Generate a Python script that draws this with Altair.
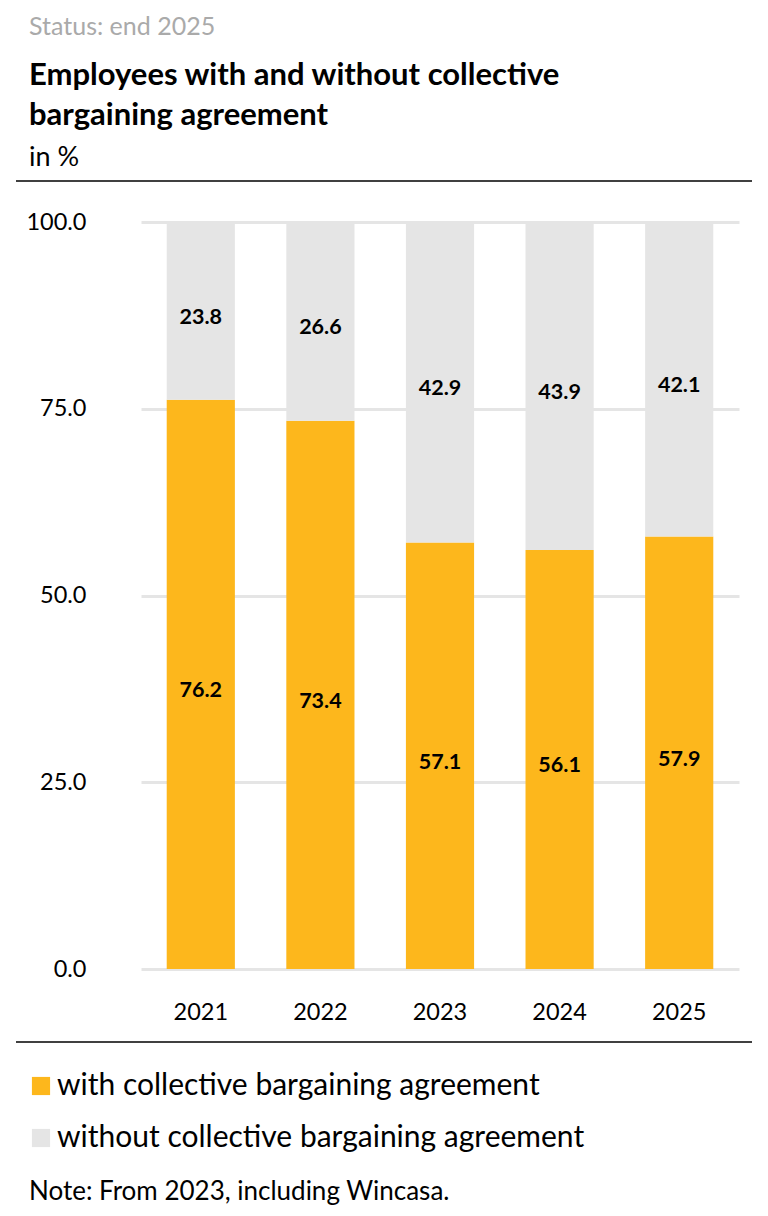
import altair as alt
import pandas as pd

years = ["2021", "2022", "2023", "2024", "2025"]
with_cba = [76.2, 73.4, 57.1, 56.1, 57.9]
without_cba = [23.8, 26.6, 42.9, 43.9, 42.1]
series = ["with collective bargaining agreement", "without collective bargaining agreement"]
colors = ["#FDB71C", "#E5E5E5"]
y_ticks = [0, 25, 50, 75, 100]

status_text = "Status: end 2025"
title_lines = ["Employees with and without collective", "bargaining agreement"]
unit_text = "in %"
note_text = "Note: From 2023, including Wincasa."

FONT = "Lato"

rows = []
for i, yr in enumerate(years):
    rows.append({"year": yr, "series": series[0], "value": with_cba[i], "ord": 0})
    rows.append({"year": yr, "series": series[1], "value": without_cba[i], "ord": 1})
df = pd.DataFrame(rows)

W, H = 598, 747

x_enc = alt.X("year:N", sort=years,
              scale=alt.Scale(paddingInner=0.43, paddingOuter=0.215),
              axis=alt.Axis(title=None, labelFontSize=23.5, labelFont=FONT, labelColor="#000",
                            labelPadding=31, ticks=False, domain=False, labelAngle=0,
                            grid=False))
y_scale = alt.Scale(domain=[0, 100], nice=False)

bars = alt.Chart(df).mark_bar().encode(
    x=x_enc,
    y=alt.Y("value:Q", stack="zero", scale=y_scale,
            axis=alt.Axis(title=None, values=y_ticks, format=".1f", labelFontSize=23.5,
                          labelFont=FONT, labelColor="#000", labelPadding=55,
                          ticks=False, domain=False, grid=True, gridColor="#E5E5E5",
                          gridWidth=3)),
    color=alt.Color("series:N", scale=alt.Scale(domain=series, range=colors),
                    legend=alt.Legend(title=None, orient="none", legendX=-115, legendY=849,
                                      direction="vertical", symbolType="square",
                                      symbolSize=330, symbolStrokeWidth=0,
                                      labelFontSize=30, labelFont=FONT, labelColor="#000",
                                      labelOffset=1, rowPadding=22, labelLimit=700)),
    order=alt.Order("ord:Q"),
)

labels = alt.Chart(df).transform_stack(
    stack="value", groupby=["year"], as_=["y0", "y1"],
    sort=[alt.SortField("ord", order="ascending")]
).transform_calculate(
    mid="(datum.y0 + datum.y1) / 2",
    lab="format(datum.value, '.1f')"
).mark_text(font=FONT, fontWeight="bold", fontSize=21.5, color="#000", dy=7).encode(
    x=alt.X("year:N", sort=years),
    y=alt.Y("mid:Q", scale=y_scale),
    text="lab:N",
)

one = pd.DataFrame({"k": [0]})

def txt(t, x, y, size, weight="normal", color="#000"):
    return alt.Chart(pd.DataFrame({"t": [t]})).mark_text(
        font=FONT, fontSize=size, fontWeight=weight, color=color,
        align="left", baseline="middle"
    ).encode(x=alt.value(x), y=alt.value(y), text="t:N")

def hline(y):
    return alt.Chart(one).mark_rule(color="#000", strokeWidth=1.3).encode(
        x=alt.value(-125), x2=alt.value(611), y=alt.value(y))

header = [
    txt(status_text, -112, -195, 25, color="#AAAAAA"),
    txt(title_lines[0], -112, -146, 31, "bold"),
    txt(title_lines[1], -112, -106, 31, "bold"),
    txt(unit_text, -112, -64, 27),
    hline(-41),
    hline(820),
    txt(note_text, -112, 970, 26),
]

chart = alt.layer(bars, labels, *header).properties(
    width=W, height=H,
    padding={"left": 133, "top": 214, "right": 21, "bottom": 239},
    autosize=alt.AutoSizeParams(type="none"),
    background="#ffffff",
).configure_view(stroke=None, strokeWidth=0)

chart.save("out.html", embed_options={"renderer": "svg", "actions": False})
